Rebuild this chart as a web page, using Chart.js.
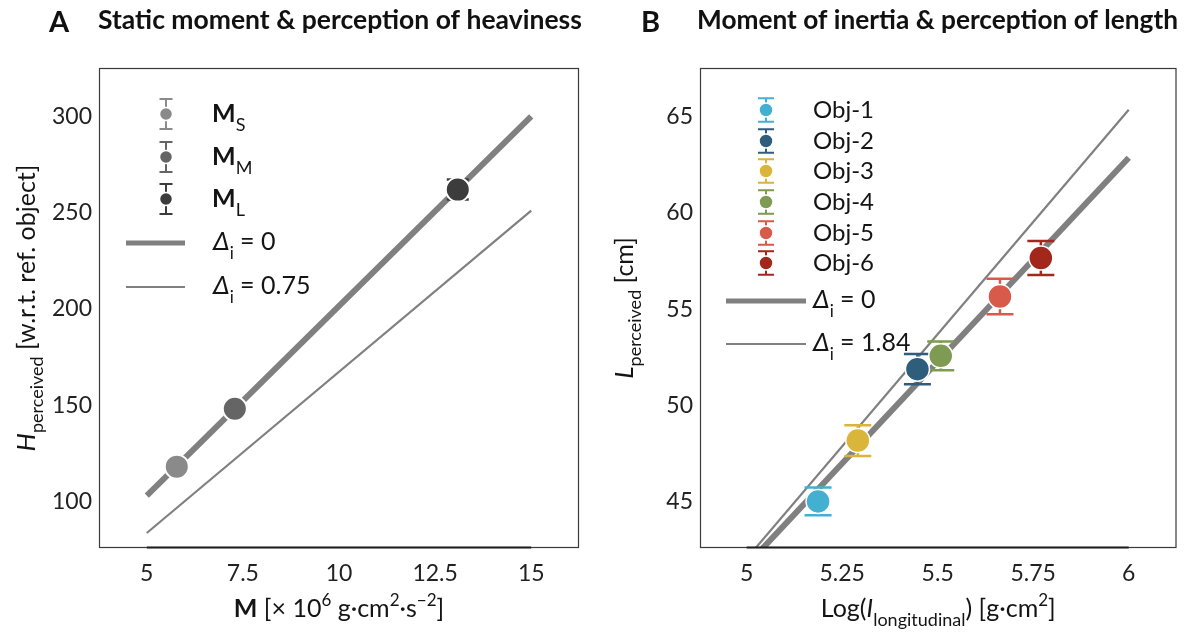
<!DOCTYPE html>
<html><head><meta charset="utf-8">
<script src="https://cdn.jsdelivr.net/npm/chart.js@4"></script>
<style>
html,body{margin:0;padding:0;background:#fff;}
#wrap{position:relative;width:1190px;height:632px;overflow:hidden;}
canvas{position:absolute;top:0;}
</style></head><body>
<div id="wrap">
<canvas id="ca" width="595" height="632" style="left:0"></canvas>
<canvas id="cb" width="595" height="632" style="left:595px"></canvas>
</div>
<script>
// ---------- Data: panel A ----------
const heavCategories = ['M_S', 'M_M', 'M_L'];
const heavSubs = ['S', 'M', 'L'];
const staticMoment = [5.78, 7.29, 13.09];
const heavPerceived = [118.2, 148.2, 262.0];
const heavErr = [2.5, 2.8, 5.2];
const heavColors = ['#8a8a8a', '#656565', '#3c3c3c'];
const lineAx = [5, 15];
const lineAdelta0 = [103.1, 300];
const lineAdelta075 = [83.75, 251.05];
const xTicksA = [5, 7.5, 10, 12.5, 15];
const xTickLabelsA = ['5', '7.5', '10', '12.5', '15'];
const yTicksA = [100, 150, 200, 250, 300];

// ---------- Data: panel B ----------
const objects = ['Obj-1', 'Obj-2', 'Obj-3', 'Obj-4', 'Obj-5', 'Obj-6'];
const logI = [5.187, 5.447, 5.291, 5.508, 5.663, 5.770];
const lenPerceived = [45.02, 51.89, 48.18, 52.58, 55.66, 57.66];
const lenErr = [0.72, 0.78, 0.80, 0.75, 0.92, 0.88];
const objColors = ['#44b0d1', '#2e5e7c', '#d9b53a', '#7f9a52', '#d85a4b', '#a2281c'];
const lineBx = [5, 6];
const lineBdelta0 = [41.70, 62.87];
const lineBdelta184 = [42.05, 65.36];
const xTicksB = [5, 5.25, 5.5, 5.75, 6];
const xTickLabelsB = ['5', '5.25', '5.5', '5.75', '6'];
const yTicksB = [45, 50, 55, 60, 65];

const F = 'Lato, "Noto Sans", "DejaVu Sans", sans-serif';
const LINE_GRAY = '#808080';

function richWidth(ctx, segs) {
  let w = 0;
  segs.forEach(s => { ctx.font = s.f; w += ctx.measureText(s.t).width; });
  return w;
}
function drawRich(ctx, x, y, segs, align) {
  const w = richWidth(ctx, segs);
  let cx = align === 'center' ? x - w / 2 : (align === 'right' ? x - w : x);
  ctx.textBaseline = 'alphabetic';
  ctx.textAlign = 'left';
  segs.forEach(s => {
    ctx.font = s.f; ctx.fillStyle = s.c || '#141414';
    ctx.fillText(s.t, cx, y + (s.dy || 0));
    cx += ctx.measureText(s.t).width;
  });
}

const errorBarPlugin = {
  id: 'errbars',
  beforeDatasetDraw(chart, args) {
    const ds = chart.data.datasets[args.index];
    if (!ds.errors) return;
    const ctx = chart.ctx, xs = chart.scales.x, ys = chart.scales.y;
    ctx.save();
    ds.data.forEach((p, i) => {
      const px = xs.getPixelForValue(p.x);
      const y1 = ys.getPixelForValue(p.y - ds.errors[i]);
      const y2 = ys.getPixelForValue(p.y + ds.errors[i]);
      ctx.strokeStyle = ds.backgroundColor[i];
      ctx.lineWidth = ds.errWidth;
      ctx.beginPath();
      ctx.moveTo(px, y1); ctx.lineTo(px, y2);
      ctx.moveTo(px - ds.capHalf, y1); ctx.lineTo(px + ds.capHalf, y1);
      ctx.moveTo(px - ds.capHalf, y2); ctx.lineTo(px + ds.capHalf, y2);
      ctx.stroke();
    });
    ctx.restore();
  }
};

function errIcon(ctx, x, y, color, r, dy, half) {
  ctx.save();
  ctx.strokeStyle = color; ctx.lineWidth = 2;
  ctx.beginPath();
  ctx.moveTo(x, y - dy); ctx.lineTo(x, y + dy);
  ctx.moveTo(x - half, y - dy); ctx.lineTo(x + half, y - dy);
  ctx.moveTo(x - half, y + dy); ctx.lineTo(x + half, y + dy);
  ctx.stroke();
  ctx.fillStyle = color; ctx.strokeStyle = '#fff'; ctx.lineWidth = 1.5;
  ctx.beginPath(); ctx.arc(x, y, r, 0, Math.PI * 2); ctx.fill(); ctx.stroke();
  ctx.restore();
}
function lineIcon(ctx, x1, x2, y, w) {
  ctx.save();
  ctx.strokeStyle = LINE_GRAY; ctx.lineWidth = w;
  ctx.beginPath(); ctx.moveTo(x1, y); ctx.lineTo(x2, y); ctx.stroke();
  ctx.restore();
}
function deltaLabel(ctx, x, y, val) {
  drawRich(ctx, x, y, [
    {t: 'Δ', f: `italic 26px ${F}`},
    {t: 'i', f: `17px ${F}`, dy: 9},
    {t: ' = ' + val, f: `25px ${F}`}
  ], 'left');
}
function titleSize(ctx, text, target) {
  ctx.font = `bold 20px ${F}`;
  const w = ctx.measureText(text).width;
  return 20 * target / w;
}

// Panel decorations (kept outside Chart.js options so functions are not treated as scriptable options)
const panelDeco = {
  ca: {
    frameFrom: 5, frameTo: 15,
    letter: 'A', letterX: 49, title: 'Static moment & perception of heaviness', titleX: 98, titleW: 484,
    xTitle: [
      {t: 'M', f: `bold 25px ${F}`},
      {t: ' [× 10', f: `25px ${F}`},
      {t: '6', f: `17px ${F}`, dy: -11},
      {t: ' g·cm', f: `25px ${F}`},
      {t: '2', f: `17px ${F}`, dy: -11},
      {t: '·s', f: `25px ${F}`},
      {t: '−2', f: `17px ${F}`, dy: -11},
      {t: ']', f: `25px ${F}`}
    ],
    yTitleX: 35,
    yTitle: [
      {t: 'H', f: `italic 26px ${F}`},
      {t: 'perceived', f: `18px ${F}`, dy: 8},
      {t: ' [w.r.t. ref. object]', f: `25px ${F}`}
    ],
    legend: (ctx) => {
      const rows = [114, 157, 199];
      heavCategories.forEach((c, i) => {
        errIcon(ctx, 166, rows[i], heavColors[i], 6.5, 15, 6.5);
        drawRich(ctx, 212, rows[i] + 8, [
          {t: 'M', f: `bold 25px ${F}`},
          {t: heavSubs[i], f: `18px ${F}`, dy: 9}
        ], 'left');
      });
      lineIcon(ctx, 126, 185, 243, 5);
      deltaLabel(ctx, 213, 250, '0');
      lineIcon(ctx, 126, 185, 287, 2);
      deltaLabel(ctx, 213, 294, '0.75');
    }
  },
  cb: {
    frameFrom: 5, frameTo: 6,
    letter: 'B', letterX: 46, title: 'Moment of inertia & perception of length', titleX: 102, titleW: 481,
    xTitle: [
      {t: 'Log(', f: `25px ${F}`},
      {t: 'I', f: `italic 25px ${F}`},
      {t: 'longitudinal', f: `18px ${F}`, dy: 9},
      {t: ') [g·cm', f: `25px ${F}`},
      {t: '2', f: `17px ${F}`, dy: -11},
      {t: ']', f: `25px ${F}`}
    ],
    yTitleX: 38,
    yTitle: [
      {t: 'L', f: `italic 26px ${F}`},
      {t: 'perceived', f: `18px ${F}`, dy: 8},
      {t: ' [cm]', f: `25px ${F}`}
    ],
    legend: (ctx) => {
      const rows = [110, 141, 171, 202, 233, 263];
      objects.forEach((c, i) => {
        errIcon(ctx, 171, rows[i], objColors[i], 7, 11.7, 8);
        drawRich(ctx, 218, rows[i] + 8, [{t: c, f: `24px ${F}`}], 'left');
      });
      lineIcon(ctx, 131, 211, 301, 5);
      deltaLabel(ctx, 218, 308, '0');
      lineIcon(ctx, 131, 211, 344, 2);
      deltaLabel(ctx, 218, 351, '1.84');
    }
  }
};

const framePlugin = {
  id: 'frame',
  afterDatasetsDraw(chart) {
    const ctx = chart.ctx, a = chart.chartArea, xs = chart.scales.x;
    const o = panelDeco[chart.canvas.id];
    ctx.save();
    ctx.strokeStyle = '#3a3a3a';
    ctx.lineWidth = 1.2;
    ctx.strokeRect(a.left + 0.5, a.top + 0.5, a.right - a.left - 1, a.bottom - a.top - 1);
    ctx.strokeStyle = '#1e1e1e';
    ctx.lineWidth = 2.2;
    ctx.beginPath();
    ctx.moveTo(xs.getPixelForValue(o.frameFrom), a.bottom - 0.5);
    ctx.lineTo(xs.getPixelForValue(o.frameTo), a.bottom - 0.5);
    ctx.stroke();
    ctx.restore();
  }
};

const textPlugin = {
  id: 'texts',
  afterDraw(chart) {
    const o = panelDeco[chart.canvas.id];
    const ctx = chart.ctx;
    ctx.save();
    const ts = titleSize(ctx, o.title, o.titleW);
    drawRich(ctx, o.letterX, 32, [{t: o.letter, f: `bold 29px ${F}`, c: '#111'}], 'left');
    drawRich(ctx, o.titleX, 29, [{t: o.title, f: `bold ${ts.toFixed(2)}px ${F}`, c: '#111'}], 'left');
    const a = chart.chartArea;
    drawRich(ctx, (a.left + a.right) / 2, 617, o.xTitle, 'center');
    ctx.save();
    ctx.translate(o.yTitleX, (a.top + a.bottom) / 2);
    ctx.rotate(-Math.PI / 2);
    drawRich(ctx, 0, 0, o.yTitle, 'center');
    ctx.restore();
    o.legend(ctx);
    ctx.restore();
  }
};

function axisCommon(min, max, ticksArr, labelsArr, fit, isX, pad) {
  return {
    type: 'linear', min: min, max: max,
    grid: {display: false, drawTicks: false},
    border: {display: false},
    ticks: {
      font: {family: F, size: 23}, color: '#222', padding: pad,
      callback: (v) => { const i = ticksArr.indexOf(v); return i >= 0 ? labelsArr[i] : ''; }
    },
    afterBuildTicks: (s) => { s.ticks = ticksArr.map(v => ({value: v})); },
    afterFit: (s) => { if (isX) s.height = fit; else s.width = fit; }
  };
}

function baseOptions(padRight, xs, ys) {
  return {
    responsive: false, animation: false, devicePixelRatio: 1,
    layout: {padding: {left: 0, right: padRight, top: 68, bottom: 0}},
    plugins: {legend: {display: false}, tooltip: {enabled: false}},
    scales: {x: xs, y: ys}
  };
}

// ---------- Chart A ----------
new Chart(document.getElementById('ca'), {
  type: 'scatter',
  data: {
    datasets: [
      {
        data: staticMoment.map((x, i) => ({x: x, y: heavPerceived[i]})),
        backgroundColor: heavColors, borderColor: '#ffffff', borderWidth: 2,
        pointRadius: 12, errors: heavErr, capHalf: 11, errWidth: 2.5
      },
      {
        type: 'line', data: lineAx.map((x, i) => ({x: x, y: lineAdelta0[i]})),
        borderColor: LINE_GRAY, borderWidth: 6, pointRadius: 0, fill: false, clip: 0, borderCapStyle: 'butt'
      },
      {
        type: 'line', data: lineAx.map((x, i) => ({x: x, y: lineAdelta075[i]})),
        borderColor: LINE_GRAY, borderWidth: 2.2, pointRadius: 0, fill: false, clip: 0
      }
    ]
  },
  options: baseOptions(16,
    axisCommon(3.757, 16.243, xTicksA, xTickLabelsA, 84, true, 12),
    axisCommon(75.97, 325.12, yTicksA, yTicksA.map(String), 99, false, 7)),
  plugins: [errorBarPlugin, framePlugin, textPlugin]
});

// ---------- Chart B ----------
new Chart(document.getElementById('cb'), {
  type: 'scatter',
  data: {
    datasets: [
      {
        data: logI.map((x, i) => ({x: x, y: lenPerceived[i]})),
        backgroundColor: objColors, borderColor: '#ffffff', borderWidth: 1.5,
        pointRadius: 12, errors: lenErr, capHalf: 13.5, errWidth: 2.5
      },
      {
        type: 'line', data: lineBx.map((x, i) => ({x: x, y: lineBdelta0[i]})),
        borderColor: LINE_GRAY, borderWidth: 6, pointRadius: 0, fill: false, clip: 0, borderCapStyle: 'butt'
      },
      {
        type: 'line', data: lineBx.map((x, i) => ({x: x, y: lineBdelta184[i]})),
        borderColor: LINE_GRAY, borderWidth: 2.2, pointRadius: 0, fill: false, clip: 0
      }
    ]
  },
  options: baseOptions(10,
    axisCommon(4.878, 6.125, xTicksB, xTickLabelsB, 84, true, 12),
    axisCommon(42.6, 67.53, yTicksB, yTicksB.map(String), 105, false, 7)),
  plugins: [errorBarPlugin, framePlugin, textPlugin]
});
</script>
</body></html>
